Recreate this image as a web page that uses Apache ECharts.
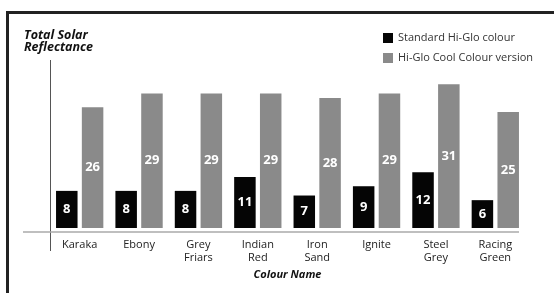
<!DOCTYPE html>
<html>
<head>
<meta charset="utf-8">
<script src="https://cdn.jsdelivr.net/npm/echarts@6/dist/echarts.min.js"></script>
<style>
  html, body { margin: 0; padding: 0; background: #fff; }
  #chart { width: 554px; height: 293px; }
</style>
</head>
<body>
<div id="chart"></div>
<script>
const categories = ['Karaka', 'Ebony', 'Grey\nFriars', 'Indian\nRed', 'Iron\nSand', 'Ignite', 'Steel\nGrey', 'Racing\nGreen'];
const standardValues = [8, 8, 8, 11, 7, 9, 12, 6];
const coolValues = [26, 29, 29, 29, 28, 29, 31, 25];
const seriesNames = ['Standard Hi-Glo colour', 'Hi-Glo Cool Colour version'];

!(function (window) {
    const { echarts } = window;
    const chart = echarts.init(document.getElementById('chart'));
    const font = '"Open Sans", "Noto Sans", sans-serif';

    const barLabel = {
        show: true,
        position: 'inside',
        color: '#fff',
        fontWeight: 'bold',
        fontSize: 13,
        fontFamily: font,
    };

    const option = {
        backgroundColor: '#fff',
        animation: false,
        textStyle: { fontFamily: font },
        grid: { left: 50, right: 29, top: 65.6, height: 162.4 },
        legend: {
            orient: 'vertical',
            left: 383,
            top: 32,
            padding: 0,
            itemWidth: 10,
            itemHeight: 10,
            itemGap: 8,
            icon: 'rect',
            textStyle: { fontSize: 11, color: '#333', lineHeight: 12 },
            data: seriesNames,
        },
        xAxis: {
            type: 'category',
            data: categories,
            name: 'Colour Name',
            nameLocation: 'middle',
            nameGap: 41,
            nameTextStyle: { fontWeight: 'bold', fontStyle: 'italic', fontSize: 11, color: '#111' },
            axisLine: { show: false },
            axisTick: { show: false },
            axisLabel: { color: '#222', fontSize: 11, lineHeight: 13, margin: 10 },
        },
        yAxis: {
            type: 'value',
            min: 0,
            max: 35,
            show: false,
        },
        graphic: [
            // frame, top and left only
            { type: 'rect', shape: { x: 6, y: 11, width: 560, height: 3 }, style: { fill: '#222' } },
            { type: 'rect', shape: { x: 6, y: 11, width: 3, height: 300 }, style: { fill: '#222' } },
            // axis lines
            { type: 'line', shape: { x1: 50.5, y1: 60, x2: 50.5, y2: 251 }, style: { stroke: '#555', lineWidth: 1 } },
            { type: 'line', shape: { x1: 23, y1: 232, x2: 519, y2: 232 }, style: { stroke: '#aaa', lineWidth: 1.5 } },
            {
                type: 'text',
                left: 24,
                top: 29,
                style: {
                    text: 'Total Solar\nReflectance',
                    font: 'italic bold 12.5px ' + font,
                    lineHeight: 12,
                    fill: '#111',
                },
            },
        ],
        series: [
            {
                name: seriesNames[0],
                type: 'bar',
                data: standardValues,
                barWidth: 21.5,
                barGap: '20%',
                itemStyle: { color: '#050505' },
                label: barLabel,
            },
            {
                name: seriesNames[1],
                type: 'bar',
                data: coolValues,
                barWidth: 21.5,
                itemStyle: { color: '#8a8a8a' },
                label: barLabel,
            },
        ],
    };

    chart.setOption(option);
}(window));
</script>
</body>
</html>
